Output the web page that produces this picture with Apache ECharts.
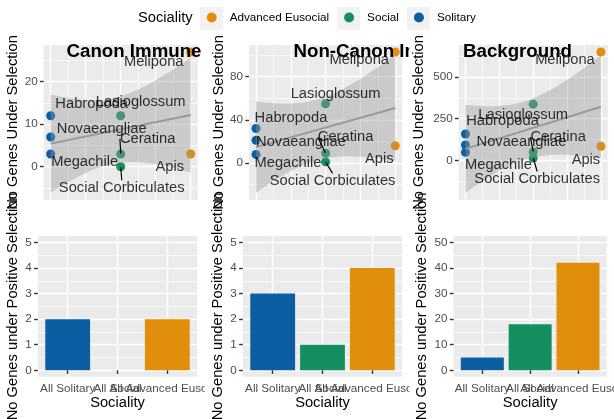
<!DOCTYPE html>
<html>
<head>
<meta charset="utf-8">
<script src="https://cdn.jsdelivr.net/npm/echarts@6/dist/echarts.min.js"></script>
<style>
html, body { margin: 0; padding: 0; background: #fff; }
#main { width: 614px; height: 419px; }
</style>
</head>
<body>
<div id="main"></div>
<script>
// species of each sociality group
var solitaryNames = ['Habropoda', 'Novaeangliae', 'Megachile'];
var socialNames = ['Lasioglossum', 'Ceratina', 'Social Corbiculates'];
var advancedNames = ['Melipona', 'Apis'];

// No Genes Under Selection (top row)
var canonSolitary = [12, 7, 3];
var canonSocial = [12, 3, 0];
var canonAdvanced = [27, 3];
var nonCanonSolitary = [32, 21, 8];
var nonCanonSocial = [55, 9, 1];
var nonCanonAdvanced = [103, 16];
var backgroundSolitary = [158, 92, 48];
var backgroundSocial = [337, 50, 14];
var backgroundAdvanced = [650, 84];

// No Genes under Positive Selection (bottom row)
var sociality = ['All Solitary', 'All Social', 'All Advanced Eusocial'];
var canonPositive = [2, 0, 2];
var nonCanonPositive = [3, 1, 4];
var backgroundPositive = [5, 18, 42];

// tick labels
var panelTitles = ['Canon Immune', 'Non-Canon Immune', 'Background'];
var topTicks = [[0, 10, 20], [0, 40, 80], [0, 250, 500]];
var barTicks = [[0, 1, 2, 3, 4, 5], [0, 1, 2, 3, 4, 5], [0, 10, 20, 30, 40, 50]];

var legendNames = ['Advanced Eusocial', 'Social', 'Solitary'];
var colors = { 'Advanced Eusocial': '#E08E0B', 'Social': '#168F60', 'Solitary': '#0B5EA2' };

var FONT = "'Liberation Sans', Arial, Helvetica, sans-serif";

// layout (pixels)
var colX = [0, 204.67, 409.33];
var topGrid = [{ left: 43.7, width: 154 }, { left: 249, width: 153.2 }, { left: 458.7, width: 149 }];
var botGrid = [{ left: 37.8, width: 159.4 }, { left: 242.8, width: 159.4 }, { left: 453.6, width: 153.1 }];
var barWidth = [44.8, 44.8, 43];
var titleLeft = [66.5, 293.5, 463];
var topNameGap = [23, 23, 32];
var botNameGap = [17, 17, 24];

// ggrepel label placement, [dx, dy] from the point, in species order
var labelShift = [
  [[41, -12], [51, -8], [34, 8], [20, -14], [27, -15], [1, 21], [-37, 10], [-21, 13]],
  [[35, -11], [45, 2], [32, 9], [10, -10], [20, -16], [7, 19], [-36, 8], [-16, 13]],
  [[37, -13], [56, -3], [33, 13], [-10, 11], [25, -15], [4, 21], [-36, 8], [-15, 14]]
];

var topData = [
  [canonSolitary, canonSocial, canonAdvanced],
  [nonCanonSolitary, nonCanonSocial, nonCanonAdvanced],
  [backgroundSolitary, backgroundSocial, backgroundAdvanced]
];
var barData = [canonPositive, nonCanonPositive, backgroundPositive];
var groupOrder = ['Solitary', 'Social', 'Advanced Eusocial'];
var groupSpecies = [solitaryNames, socialNames, advancedNames];

// geom_smooth(method = 'lm') with 95% band
function lmBand(xs, ys) {
  var n = xs.length, mx = 0, my = 0, sxx = 0, sxy = 0, rss = 0, i;
  for (i = 0; i < n; i++) { mx += xs[i] / n; my += ys[i] / n; }
  for (i = 0; i < n; i++) { sxx += (xs[i] - mx) * (xs[i] - mx); sxy += (xs[i] - mx) * (ys[i] - my); }
  var b = sxy / sxx, a = my - b * mx;
  for (i = 0; i < n; i++) rss += Math.pow(ys[i] - a - b * xs[i], 2);
  var s = Math.sqrt(rss / (n - 2));
  var t = 2.446912; // qt(0.975, 6)
  var x0 = Math.min.apply(null, xs), x1 = Math.max.apply(null, xs);
  var out = { x: [], lo: [], hi: [], a: a, b: b, x0: x0, x1: x1 };
  for (i = 0; i < 80; i++) {
    var x = x0 + (x1 - x0) * i / 79;
    var se = s * Math.sqrt(1 / n + (x - mx) * (x - mx) / sxx);
    out.x.push(x);
    out.lo.push(a + b * x - t * se);
    out.hi.push(a + b * x + t * se);
  }
  return out;
}

function minorOf(major, lo, hi) {
  var step = major[1] - major[0], res = [];
  major.concat([major[major.length - 1] + step]).forEach(function (m) {
    var v = m - step / 2;
    if (v > lo && v < hi) res.push(v);
  });
  return res;
}

var option = {
  animation: false,
  backgroundColor: '#fff',
  textStyle: { fontFamily: FONT },
  title: [],
  grid: [],
  xAxis: [],
  yAxis: [],
  series: [],
  graphic: [],
  legend: {
    data: legendNames,
    left: 206.7,
    top: 11.5,
    padding: 0,
    icon: 'circle',
    itemWidth: 10,
    itemHeight: 10,
    itemGap: 15,
    selectedMode: false,
    z: 100,
    textStyle: { fontSize: 11.7, color: '#000', padding: [0, 0, 0, 8] }
  }
};

option.title.push({
  text: 'Sociality', left: 138, top: 10, padding: 0, z: 100,
  textStyle: { fontSize: 14.7, fontWeight: 'normal', color: '#000' }
});
[200, 337, 407].forEach(function (x) {
  option.graphic.push({ type: 'rect', silent: true, z: 99, shape: { x: x, y: 7, width: 23, height: 23 }, style: { fill: '#F2F2F2' } });
});

var tickStyle = { show: true, length: 3.7, lineStyle: { color: '#333', width: 1.4 } };
var labelStyle = { color: '#4D4D4D', fontSize: 11.7, margin: 6, showMinLabel: true, showMaxLabel: true, hideOverlap: false };
var hidden = { axisLine: { show: false }, axisTick: { show: false }, splitLine: { show: false } };

function addX(o) { option.xAxis.push(o); return option.xAxis.length - 1; }
function addY(o) { option.yAxis.push(o); return option.yAxis.length - 1; }

for (var c = 0; c < 3; c++) {
  var base = c * 10;
  if (c > 0) {
    // cowplot cell background covers the previous column's overflow
    option.graphic.push({ type: 'rect', silent: true, z: base, shape: { x: colX[c], y: 0, width: 206, height: 419 }, style: { fill: '#fff' } });
  }

  // ---- top: scatter + lm ----
  var xs = [], ys = [], pts = [];
  groupOrder.forEach(function (g, gi) {
    topData[c][gi].forEach(function (v, k) {
      xs.push(gi + 1); ys.push(v);
      pts.push({ name: groupSpecies[gi][k], value: [gi + 1, v] });
    });
  });
  var fit = lmBand(xs, ys);
  var yLo = Math.min(Math.min.apply(null, ys), Math.min.apply(null, fit.lo));
  var yHi = Math.max(Math.max.apply(null, ys), Math.max.apply(null, fit.hi));
  var pad = (yHi - yLo) * 0.05;
  yLo -= pad; yHi += pad;

  option.grid.push({ left: topGrid[c].left, width: topGrid[c].width, top: 44.9, height: 155, show: true, backgroundColor: '#EBEBEB', borderWidth: 0, outerBoundsMode: 'none', z: base + 1 });
  var gTop = option.grid.length - 1;
  option.grid.push({ left: botGrid[c].left, width: botGrid[c].width, top: 236, height: 140.7, show: true, backgroundColor: '#EBEBEB', borderWidth: 0, outerBoundsMode: 'none', z: base + 1 });
  var gBot = option.grid.length - 1;

  var xMajor = [1, 1.5, 2, 2.5, 3], xMinor = [1.25, 1.75, 2.25, 2.75];
  var xi = addX({
    gridIndex: gTop, type: 'value', min: 0.9, max: 3.1, z: base + 2,
    axisLine: { show: false }, axisTick: { show: false, customValues: xMajor }, axisLabel: { show: false, customValues: xMajor },
    splitLine: { show: true, lineStyle: { color: '#fff', width: 1.4 } }
  });
  addX({
    gridIndex: gTop, type: 'value', position: 'top', min: 0.9, max: 3.1, z: base + 2,
    axisLine: { show: false }, axisTick: { show: false, customValues: xMinor }, axisLabel: { show: false, customValues: xMinor },
    splitLine: { show: true, lineStyle: { color: '#fff', width: 0.7 } }
  });
  var yi = addY({
    gridIndex: gTop, type: 'value', min: yLo, max: yHi, z: base + 2,
    name: 'No Genes Under Selection', nameLocation: 'middle', nameGap: topNameGap[c],
    nameTextStyle: { color: '#000', fontSize: 14.7 },
    axisLine: { show: false },
    axisTick: Object.assign({ customValues: topTicks[c] }, tickStyle),
    axisLabel: Object.assign({ customValues: topTicks[c] }, labelStyle),
    splitLine: { show: true, lineStyle: { color: '#fff', width: 1.4 } }
  });
  var yMin = minorOf(topTicks[c], yLo, yHi);
  addY({
    gridIndex: gTop, type: 'value', position: 'right', min: yLo, max: yHi, z: base + 2,
    axisLine: { show: false }, axisTick: { show: false, customValues: yMin }, axisLabel: { show: false, customValues: yMin },
    splitLine: { show: true, lineStyle: { color: '#fff', width: 0.7 } }
  });

  groupOrder.forEach(function (g, gi) {
    option.series.push({
      type: 'scatter', name: g, xAxisIndex: xi, yAxisIndex: yi, z: base + 3, silent: true,
      symbolSize: 9, itemStyle: { color: colors[g], opacity: 1 },
      data: topData[c][gi].map(function (v) { return [gi + 1, v]; })
    });
  });
  (function (fit, base) {
    option.series.push({
      type: 'custom', xAxisIndex: xi, yAxisIndex: yi, z: base + 4, silent: true,
      data: [[fit.x0, fit.a + fit.b * fit.x0]],
      renderItem: function (params, api) {
        var poly = [], i;
        for (i = 0; i < fit.x.length; i++) poly.push(api.coord([fit.x[i], fit.hi[i]]));
        for (i = fit.x.length - 1; i >= 0; i--) poly.push(api.coord([fit.x[i], fit.lo[i]]));
        return { type: 'polygon', shape: { points: poly }, style: { fill: 'rgba(153,153,153,0.4)' } };
      }
    });
    option.series.push({
      type: 'line', xAxisIndex: xi, yAxisIndex: yi, z: base + 5, silent: true,
      showSymbol: false, lineStyle: { color: '#999', width: 2 },
      data: [[fit.x0, fit.a + fit.b * fit.x0], [fit.x1, fit.a + fit.b * fit.x1]]
    });
  })(fit, base);
  (function (shift) {
    option.series.push({
      type: 'scatter', xAxisIndex: xi, yAxisIndex: yi, z: base + 6, silent: true,
      symbolSize: 1, itemStyle: { color: 'rgba(0,0,0,0)' },
      label: { show: true, position: 'inside', formatter: '{b}', color: '#000', fontSize: 14.7 },
      labelLayout: function (p) { return { dx: shift[p.dataIndex][0], dy: shift[p.dataIndex][1] }; },
      data: pts.map(function (p) {
        var seg = p.name === 'Ceratina' || p.name === 'Social Corbiculates';
        return { name: p.name, value: p.value, labelLine: { show: seg, lineStyle: { color: '#000', width: 1.2 } } };
      })
    });
  })(labelShift[c]);

  option.title.push({
    text: panelTitles[c], left: titleLeft[c], top: 42, padding: 0, z: base + 7,
    textStyle: { fontSize: 18.7, fontWeight: 'bold', color: '#000' }
  });

  // ---- bottom: bars ----
  var bMax = barTicks[c][barTicks[c].length - 1];
  var bLo = -bMax * 0.05, bHi = bMax * 1.05;
  var catName = function (v) { return sociality[Math.round(v) - 1]; };
  var bx = addX({
    gridIndex: gBot, type: 'value', position: 'bottom', min: 0.4, max: 3.6, z: base + 2,
    name: 'Sociality', nameLocation: 'middle', nameGap: 19,
    nameTextStyle: { color: '#000', fontSize: 14.7 },
    axisLine: { show: false },
    axisTick: Object.assign({ customValues: [1, 2, 3] }, tickStyle),
    axisLabel: Object.assign({ customValues: [1], formatter: catName }, labelStyle),
    splitLine: { show: true, lineStyle: { color: '#fff', width: 1.4 } }
  });
  // one label per axis so overlapping category labels are all kept
  [2, 3].forEach(function (k) {
    addX(Object.assign({
      gridIndex: gBot, type: 'value', position: 'bottom', min: 0.4, max: 3.6, z: base + 2,
      axisLabel: Object.assign({ customValues: [k], formatter: catName }, labelStyle)
    }, hidden));
  });
  var by = addY({
    gridIndex: gBot, type: 'value', min: bLo, max: bHi, z: base + 2,
    name: 'No Genes under Positive Selection', nameLocation: 'middle', nameGap: botNameGap[c],
    nameTextStyle: { color: '#000', fontSize: 14.7 },
    axisLine: { show: false },
    axisTick: Object.assign({ customValues: barTicks[c] }, tickStyle),
    axisLabel: Object.assign({ customValues: barTicks[c] }, labelStyle),
    splitLine: { show: true, lineStyle: { color: '#fff', width: 1.4 } }
  });
  var bMinor = minorOf(barTicks[c], bLo, bHi);
  addY({
    gridIndex: gBot, type: 'value', position: 'right', min: bLo, max: bHi, z: base + 2,
    axisLine: { show: false }, axisTick: { show: false, customValues: bMinor }, axisLabel: { show: false, customValues: bMinor },
    splitLine: { show: true, lineStyle: { color: '#fff', width: 0.7 } }
  });
  option.series.push({
    type: 'bar', xAxisIndex: bx, yAxisIndex: by, z: base + 3, silent: true,
    barWidth: barWidth[c],
    data: barData[c].map(function (v, k) {
      return { value: [k + 1, v], itemStyle: { color: colors[groupOrder[k]] } };
    })
  });
}

var myChart = echarts.init(document.getElementById('main'));
myChart.setOption(option);
</script>
</body>
</html>
